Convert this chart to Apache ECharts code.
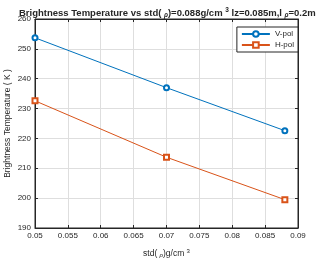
<!DOCTYPE html>
<html><head><meta charset="utf-8">
<script src="https://cdn.jsdelivr.net/npm/echarts@6/dist/echarts.min.js"></script>
<style>html,body{margin:0;padding:0;background:#fff}#c{width:320px;height:265px}</style>
</head><body><div id="c"></div>
<script>
const xValues = [0.05, 0.07, 0.088];
const vPol = [253.7, 237.0, 222.6];
const hPol = [232.6, 213.7, 199.5];
const seriesNames = ['V-pol', 'H-pol'];
const xTicks = [0.05, 0.055, 0.06, 0.065, 0.07, 0.075, 0.08, 0.085, 0.09];
const yTicks = [190, 200, 210, 220, 230, 240, 250, 260];

const chart = echarts.init(document.getElementById('c'));
const txt = '#262626';
const font = 'Liberation Sans, Arial, sans-serif';
const fmtX = v => { const r = Math.round(v * 1000) / 1000; return String(r); };
chart.setOption({
  animation: false,
  backgroundColor: '#fff',
  title: {
    text: 'Brightness Temperature vs std( {sub|ρ})=0.088g/cm {sup|3} lz=0.085m,l {sub|ρ}=0.2m',
    left: 14, top: 2,
    textStyle: {
      fontFamily: font, fontSize: 9.5, fontWeight: 'bold', color: txt,
      rich: {
        sub: {fontSize: 6.5, fontStyle: 'italic', fontFamily: font, color: txt, padding: [4, 0, 0, 0]},
        sup: {fontSize: 6.5, fontFamily: font, color: txt, padding: [0, 0, 5, 0]}
      }
    }
  },
  legend: {
    right: 22, top: 27, orient: 'vertical',
    itemWidth: 28, itemHeight: 7, itemGap: 3,
    padding: [3, 4, 3, 4],
    borderColor: '#262626', borderWidth: 1, backgroundColor: '#fff',
    textStyle: {fontFamily: font, fontSize: 8, color: txt},
    data: seriesNames
  },
  grid: {left: 35, right: 22, top: 19, bottom: 37, containLabel: false, outerBoundsMode: 'none',
         show: true, borderColor: '#262626', borderWidth: 1},
  xAxis: [{
    type: 'value', min: xTicks[0], max: xTicks[xTicks.length - 1], interval: 0.005,
    name: 'std( {sub|ρ})g/cm {sup|3}', nameLocation: 'middle', nameGap: 20, nameMoveOverlap: false,
    nameTextStyle: {fontFamily: font, fontSize: 8.5, color: txt,
      rich: {sub: {fontSize: 6, fontStyle: 'italic', fontFamily: font, color: txt, padding: [4, 0, 0, 0]},
             sup: {fontSize: 6, fontFamily: font, color: txt, padding: [0, 0, 5, 0]}}},
    axisLine: {lineStyle: {color: '#262626'}},
    axisTick: {inside: true, length: 3, lineStyle: {color: '#262626'}},
    axisLabel: {fontFamily: font, fontSize: 8, color: txt, margin: 4, formatter: fmtX},
    splitLine: {show: true, lineStyle: {color: '#dedede', width: 1}}
  }, {
    type: 'value', position: 'top', min: xTicks[0], max: xTicks[xTicks.length - 1], interval: 0.005,
    axisLine: {show: true, lineStyle: {color: '#262626'}},
    axisTick: {inside: true, length: 3, lineStyle: {color: '#262626'}},
    axisLabel: {show: false}, splitLine: {show: false}
  }],
  yAxis: [{
    type: 'value', min: yTicks[0], max: yTicks[yTicks.length - 1], interval: 10,
    name: 'Brightness Temperature ( K )', nameLocation: 'middle', nameGap: 23, nameMoveOverlap: false,
    nameTextStyle: {fontFamily: font, fontSize: 8.5, color: txt},
    axisLine: {show: true, lineStyle: {color: '#262626'}},
    axisTick: {show: true, inside: true, length: 3, lineStyle: {color: '#262626'}},
    axisLabel: {fontFamily: font, fontSize: 8, color: txt, margin: 4},
    splitLine: {show: true, lineStyle: {color: '#dedede', width: 1}}
  }, {
    type: 'value', position: 'right', min: yTicks[0], max: yTicks[yTicks.length - 1], interval: 10,
    axisLine: {show: true, lineStyle: {color: '#262626'}},
    axisTick: {show: true, inside: true, length: 3, lineStyle: {color: '#262626'}},
    axisLabel: {show: false}, splitLine: {show: false}
  }],
  series: [{
    name: seriesNames[0], type: 'line', data: xValues.map((x, i) => [x, vPol[i]]),
    symbol: 'emptyCircle', symbolSize: 5,
    itemStyle: {color: '#0072BD', borderWidth: 1.2}, lineStyle: {color: '#0072BD', width: 1}
  }, {
    name: seriesNames[1], type: 'line', data: xValues.map((x, i) => [x, hPol[i]]),
    symbol: 'emptyRect', symbolSize: 5,
    itemStyle: {color: '#D95319', borderWidth: 1}, lineStyle: {color: '#D95319', width: 1}
  }]
});
</script></body></html>
